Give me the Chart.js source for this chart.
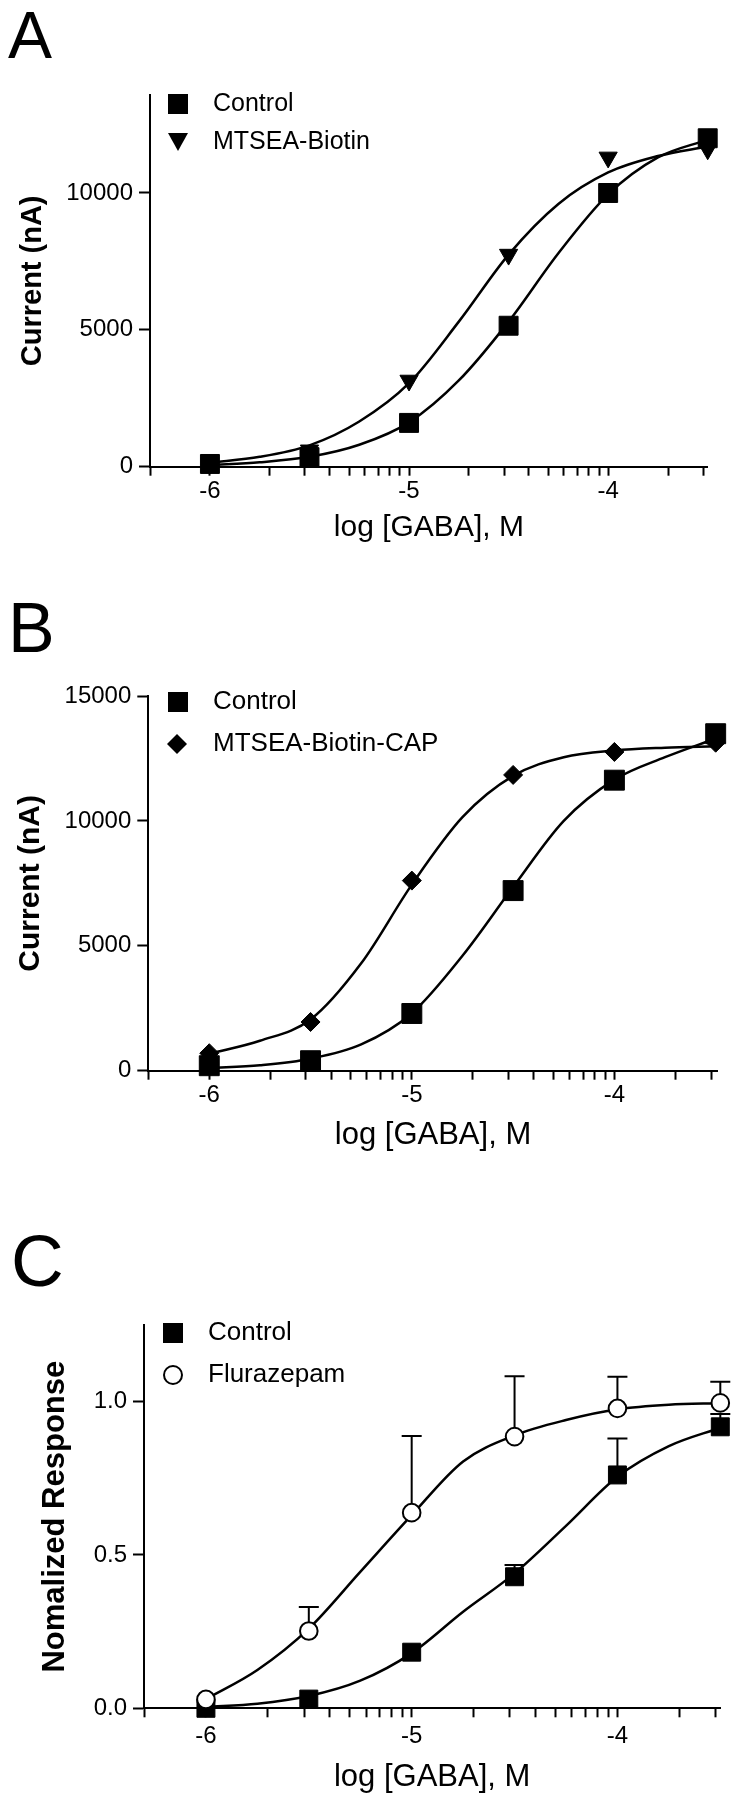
<!DOCTYPE html>
<html>
<head>
<meta charset="utf-8">
<title>GABA dose response</title>
<script src="https://cdn.jsdelivr.net/npm/chart.js@4.4.0/dist/chart.umd.min.js"></script>
<style>
    html, body { margin: 0; padding: 0; background: #fff; overflow: hidden; }
    body { width: 734px; height: 1800px; position: relative; }
    .panel { position: absolute; left: 0; }
</style>
</head>
<body>
<div class="panel" style="top:0px"><canvas id="chartA" width="734" height="560"></canvas></div>
<div class="panel" style="top:560px"><canvas id="chartB" width="734" height="620"></canvas></div>
<div class="panel" style="top:1140px"><canvas id="chartC" width="734" height="660"></canvas></div>
<script>
// x positions (log [GABA], M) of the measured points and of the fitted curves
const logGaba = [-6, -5.5, -5, -4.5, -4, -3.5];
const fitLogGaba = [-6, -5.75, -5.5, -5.25, -5, -4.75, -4.5, -4.25, -4, -3.75, -3.5];
const xMajorTicks = [-6, -5, -4];
const xTickLabels = ['-6', '-5', '-4'];

// panel A
const aControl = [100, 350, 1600, 5150, 10000, 12000];
const aBiotin = [120, 600, 3150, 7750, 11300, 11600];
const aControlFit = [60, 160, 360, 800, 1620, 3150, 5300, 7800, 9950, 11300, 11950];
const aBiotinFit = [150, 360, 780, 1650, 3050, 5300, 7750, 9600, 10750, 11350, 11700];
const aYTicks = [0, 5000, 10000];
const aYTickLabels = ['0', '5000', '10000'];

// panel B
const bControl = [200, 400, 2290, 7210, 11630, 13490];
const bCap = [700, 1950, 7610, 11840, 12760, 13130];
const bControlFit = [100, 220, 480, 1050, 2300, 4600, 7350, 10000, 11650, 12550, 13300];
const bCapFit = [680, 1200, 2050, 4300, 7450, 10150, 11800, 12550, 12820, 12930, 12990];
const bYTicks = [0, 5000, 10000, 15000];
const bYTickLabels = ['0', '5000', '10000', '15000'];

// panel C (normalized, upper error bars only)
const cControl = [0.0, 0.03, 0.183, 0.429, 0.761, 0.918];
const cFlurazepam = [0.029, 0.252, 0.638, 0.886, 0.978, 0.996];
const cControlErrTop = [null, null, null, 0.467, 0.88, 0.96];
const cFlurazepamErrTop = [null, 0.33, 0.888, 1.083, 1.081, 1.065];
const cControlFit = [0.005, 0.015, 0.04, 0.09, 0.18, 0.315, 0.44, 0.595, 0.755, 0.855, 0.915];
const cFlurazepamFit = [0.03, 0.125, 0.26, 0.445, 0.63, 0.805, 0.89, 0.94, 0.975, 0.99, 0.995];
const cYTicks = [0, 0.5, 1.0];
const cYTickLabels = ['0.0', '0.5', '1.0'];

const FAMILY = '"Liberation Sans", Arial, Helvetica, sans-serif';
const xMin = Math.log10(5e-7);

// log-axis tick marks: each decade plus 2..9 x 10^n
const xTickValues = [xMin];
xMajorTicks.forEach(function (e) {
    for (let k = 1; k <= 9; k++) xTickValues.push(e + Math.log10(k));
});

function points(xs, ys) {
    return xs.map(function (x, i) { return { x: x, y: ys[i] }; });
}

function markers(label, ys, style, radius, fill, order, rotation) {
    return {
        label: label,
        data: points(logGaba, ys),
        showLine: false,
        pointStyle: style,
        pointRadius: radius,
        pointHoverRadius: radius,
        pointRotation: rotation || 0,
        pointBackgroundColor: fill,
        pointBorderColor: '#000',
        pointBorderWidth: fill === '#fff' ? 2 : 1,
        clip: false,
        order: order
    };
}

function fitLine(ys) {
    return {
        data: points(fitLogGaba, ys),
        borderColor: '#000',
        borderWidth: 2.5,
        pointRadius: 0,
        pointHoverRadius: 0,
        cubicInterpolationMode: 'monotone',
        fill: false,
        clip: false,
        order: 5
    };
}

function drawSymbol(ctx, style, cx, cy) {
    ctx.fillStyle = '#000';
    ctx.strokeStyle = '#000';
    ctx.beginPath();
    if (style === 'square') {
        ctx.rect(cx - 10, cy - 10, 20, 20);
        ctx.fill();
    } else if (style === 'triangle') {
        ctx.moveTo(cx - 10, cy - 9);
        ctx.lineTo(cx + 10, cy - 9);
        ctx.lineTo(cx, cy + 9);
        ctx.closePath();
        ctx.fill();
    } else if (style === 'diamond') {
        ctx.moveTo(cx, cy - 10);
        ctx.lineTo(cx + 10, cy);
        ctx.lineTo(cx, cy + 10);
        ctx.lineTo(cx - 10, cy);
        ctx.closePath();
        ctx.fill();
    } else if (style === 'circle') {
        ctx.arc(cx, cy, 9, 0, Math.PI * 2);
        ctx.fillStyle = '#fff';
        ctx.fill();
        ctx.lineWidth = 2;
        ctx.stroke();
    }
}

function decor(p) {
    return {
        id: 'decor' + p.letter,
        beforeDatasetsDraw: function (chart) {
            if (!p.errors) return;
            const ctx = chart.ctx;
            const xs = chart.scales.x, ys = chart.scales.y;
            ctx.save();
            ctx.strokeStyle = '#000';
            ctx.lineWidth = 2;
            p.errors.forEach(function (e) {
                logGaba.forEach(function (x, i) {
                    if (e.top[i] === null) return;
                    const px = xs.getPixelForValue(x);
                    const y0 = ys.getPixelForValue(e.mean[i]);
                    const y1 = ys.getPixelForValue(e.top[i]);
                    ctx.beginPath();
                    ctx.moveTo(px, y0);
                    ctx.lineTo(px, y1);
                    ctx.moveTo(px - 10, y1);
                    ctx.lineTo(px + 10, y1);
                    ctx.stroke();
                });
            });
            ctx.restore();
        },
        afterDraw: function (chart) {
            const ctx = chart.ctx;
            ctx.save();
            ctx.fillStyle = '#000';
            ctx.textAlign = 'left';
            ctx.textBaseline = 'alphabetic';
            ctx.font = p.letterSize + 'px ' + FAMILY;
            ctx.fillText(p.letter, p.letterX, p.letterY);

            p.legend.forEach(function (item) {
                drawSymbol(ctx, item.style, item.x, item.y);
                ctx.fillStyle = '#000';
                ctx.textBaseline = 'middle';
                ctx.font = p.legendSize + 'px ' + FAMILY;
                ctx.fillText(item.text, p.legendTextX, item.y);
            });
            ctx.restore();
        }
    };
}

function panelOptions(p) {
    return {
        responsive: false,
        animation: false,
        devicePixelRatio: 1,
        layout: { padding: { left: 0, top: p.top, right: p.right, bottom: p.bottom } },
        plugins: {
            legend: { display: false },
            tooltip: { enabled: false }
        },
        scales: {
            x: {
                type: 'linear',
                min: xMin,
                max: p.xMax,
                afterFit: function (s) { s.height = p.xHeight; },
                afterBuildTicks: function (s) {
                    s.ticks = xTickValues.filter(function (v) { return v <= p.xMax + 1e-9; })
                        .map(function (v) { return { value: v }; });
                },
                ticks: {
                    autoSkip: false,
                    maxRotation: 0,
                    padding: p.xPad,
                    color: '#000',
                    font: { family: FAMILY, size: 24 },
                    callback: function (v) {
                        const i = xMajorTicks.findIndex(function (m) { return Math.abs(m - v) < 1e-6; });
                        return i < 0 ? '' : xTickLabels[i];
                    }
                },
                grid: { drawOnChartArea: false, drawTicks: true, tickLength: 9, tickWidth: 2, tickColor: '#000' },
                border: { color: '#000', width: 2 },
                title: {
                    display: true,
                    text: 'log [GABA], M',
                    color: '#000',
                    font: { family: FAMILY, size: p.xTitleSize },
                    padding: 0
                }
            },
            y: {
                type: 'linear',
                min: 0,
                max: p.yMax,
                afterFit: function (s) { s.width = p.yWidth; },
                afterBuildTicks: function (s) {
                    s.ticks = p.yTicks.map(function (v) { return { value: v }; });
                },
                ticks: {
                    autoSkip: false,
                    padding: 6,
                    color: '#000',
                    font: { family: FAMILY, size: 24 },
                    callback: function (v) {
                        const i = p.yTicks.findIndex(function (m) { return Math.abs(m - v) < 1e-9; });
                        return i < 0 ? '' : p.yTickLabels[i];
                    }
                },
                grid: { drawOnChartArea: false, drawTicks: true, tickLength: 11, tickWidth: 2, tickColor: '#000' },
                border: { color: '#000', width: 2 },
                title: {
                    display: true,
                    text: p.yTitle,
                    color: '#000',
                    font: { family: FAMILY, size: p.yTitleSize, weight: 'bold' },
                    padding: { top: p.yTitlePad, bottom: 0 }
                }
            }
        }
    };
}

document.addEventListener('DOMContentLoaded', function () {
    const panelA = {
        letter: 'A', letterSize: 66, letterX: 8, letterY: 58,
        top: 95, right: 26.3, bottom: 14, xHeight: 79.3, xPad: 1, xMax: -3.5, xTitleSize: 30,
        yWidth: 150, yMax: 13580, yTicks: aYTicks, yTickLabels: aYTickLabels,
        yTitle: 'Current (nA)', yTitleSize: 29, yTitlePad: 16,
        legendSize: 25, legendTextX: 213,
        legend: [
            { text: 'Control', style: 'square', x: 178, y: 104 },
            { text: 'MTSEA-Biotin', style: 'triangle', x: 178, y: 142 }
        ]
    };
    new Chart(document.getElementById('chartA').getContext('2d'), {
        type: 'line',
        data: {
            datasets: [
                fitLine(aControlFit),
                fitLine(aBiotinFit),
                markers('Control', aControl, 'rect', 13.4, '#000', 2),
                markers('MTSEA-Biotin', aBiotin, 'triangle', 10.5, '#000', 1, 180)
            ]
        },
        options: panelOptions(panelA),
        plugins: [decor(panelA)]
    });

    const panelB = {
        letter: 'B', letterSize: 70, letterX: 8, letterY: 92,
        top: 136, right: 16.3, bottom: 26.4, xHeight: 82.9, xPad: 1, xMax: -3.49, xTitleSize: 31,
        yWidth: 148.3, yMax: 15000, yTicks: bYTicks, yTickLabels: bYTickLabels,
        yTitle: 'Current (nA)', yTitleSize: 30, yTitlePad: 12.5,
        legendSize: 26, legendTextX: 213,
        legend: [
            { text: 'Control', style: 'square', x: 178, y: 142 },
            { text: 'MTSEA-Biotin-CAP', style: 'diamond', x: 177, y: 184 }
        ]
    };
    new Chart(document.getElementById('chartB').getContext('2d'), {
        type: 'line',
        data: {
            datasets: [
                fitLine(bControlFit),
                fitLine(bCapFit),
                markers('Control', bControl, 'rect', 14.1, '#000', 2),
                markers('MTSEA-Biotin-CAP', bCap, 'rectRot', 9.5, '#000', 1)
            ]
        },
        options: panelOptions(panelB),
        plugins: [decor(panelB)]
    });

    const panelC = {
        letter: 'C', letterSize: 73, letterX: 11, letterY: 146,
        top: 185, right: 13.7, bottom: 4.4, xHeight: 87.3, xPad: 5, xMax: -3.5, xTitleSize: 31,
        yWidth: 144, yMax: 1.25, yTicks: cYTicks, yTickLabels: cYTickLabels,
        yTitle: 'Nomalized Response', yTitleSize: 31, yTitlePad: 37,
        legendSize: 26, legendTextX: 208,
        legend: [
            { text: 'Control', style: 'square', x: 173, y: 193 },
            { text: 'Flurazepam', style: 'circle', x: 173, y: 235 }
        ],
        errors: [
            { mean: cControl, top: cControlErrTop },
            { mean: cFlurazepam, top: cFlurazepamErrTop }
        ]
    };
    new Chart(document.getElementById('chartC').getContext('2d'), {
        type: 'line',
        data: {
            datasets: [
                fitLine(cControlFit),
                fitLine(cFlurazepamFit),
                markers('Control', cControl, 'rect', 12.7, '#000', 2),
                markers('Flurazepam', cFlurazepam, 'circle', 8.8, '#fff', 1)
            ]
        },
        options: panelOptions(panelC),
        plugins: [decor(panelC)]
    });
});
</script>
</body>
</html>
